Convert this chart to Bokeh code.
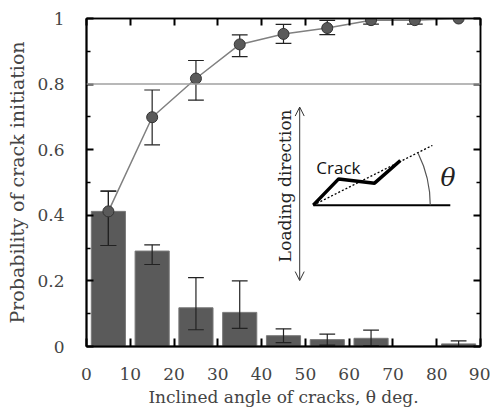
import numpy as np
from bokeh.plotting import figure
from bokeh.models import (Range1d, LinearAxis, FixedTicker, CustomJSTickFormatter,
                          Span, Label, Arrow, OpenHead)
from bokeh.embed import file_html
from bokeh.resources import INLINE

# ---- data ----
angles = [5, 15, 25, 35, 45, 55, 65, 75, 85]
bar_prob = [0.412, 0.291, 0.118, 0.104, 0.033, 0.021, 0.025, 0.0, 0.008]
bar_low = [0.308, 0.250, 0.051, 0.055, 0.012, 0.004, 0.002, np.nan, 0.0]
bar_high = [0.474, 0.310, 0.210, 0.200, 0.054, 0.038, 0.050, np.nan, 0.017]
cum_prob = [0.412, 0.699, 0.817, 0.921, 0.953, 0.971, 0.995, 0.995, 1.0]
cum_low = [0.308, 0.615, 0.751, 0.884, 0.924, 0.951, 0.983, 0.983, 1.0]
cum_high = [0.474, 0.782, 0.872, 0.950, 0.982, 0.994, 1.0, 1.0, 1.0]
x_ticks = [0, 10, 20, 30, 40, 50, 60, 70, 80, 90]
y_ticks = [0, 0.2, 0.4, 0.6, 0.8, 1.0]
y_minor = [0.1, 0.3, 0.5, 0.7, 0.9]

SERIF = "DejaVu Serif"
CAP = 1.8  # half width of error-bar caps (x data units)

p = figure(width=490, height=410, output_backend="svg", toolbar_location=None,
           x_range=Range1d(0, 90), y_range=Range1d(0, 1),
           min_border_left=86, min_border_top=18, min_border_right=10, min_border_bottom=64)
p.grid.visible = False
p.outline_line_color = "black"
p.outline_line_width = 1.5
p.background_fill_color = "white"

# bars
p.vbar(x=angles, top=bar_prob, width=7.8, fill_color="#5a5a5a", line_color="#7a7a7a", line_width=1)

def errbars(xs, lo, hi, color="#222222"):
    xs = np.array(xs, dtype=float); lo = np.array(lo, dtype=float); hi = np.array(hi, dtype=float)
    p.segment(x0=xs, y0=lo, x1=xs, y1=hi, line_color=color, line_width=1.2)
    p.segment(x0=xs - CAP, y0=lo, x1=xs + CAP, y1=lo, line_color=color, line_width=1.2)
    p.segment(x0=xs - CAP, y0=hi, x1=xs + CAP, y1=hi, line_color=color, line_width=1.2)

errbars(angles, bar_low, bar_high)

# reference line at 0.8
p.add_layout(Span(location=0.8, dimension="width", line_color="#a0a0a0", line_width=1.5))

# cumulative line
p.line(angles, cum_prob, line_color="#808080", line_width=1.5)
errbars(angles, cum_low, cum_high)
p.scatter(angles, cum_prob, size=11, fill_color="#5a5a5a", line_color="#333333", line_width=1)

# ---- axes ----
yt = FixedTicker(ticks=y_ticks, minor_ticks=y_minor)
xt = FixedTicker(ticks=x_ticks)
fmt = CustomJSTickFormatter(code="return tick.toString();")
blank = CustomJSTickFormatter(code="return '';")

for ax in p.yaxis:
    ax.ticker = yt
    ax.formatter = fmt
    ax.axis_label = "Probability of crack initiation"
    ax.axis_label_text_font = SERIF
    ax.axis_label_text_font_size = "19px"
    ax.axis_label_text_font_style = "normal"
    ax.axis_label_standoff = 6
    ax.major_label_text_font = SERIF
    ax.major_label_text_font_size = "17px"
    ax.major_label_standoff = 22
    ax.major_tick_in = 7
    ax.major_tick_out = 0
    ax.minor_tick_in = 4
    ax.minor_tick_out = 0
    ax.axis_line_width = 2
    ax.major_tick_line_width = 2
    ax.minor_tick_line_width = 1.5

for ax in p.xaxis:
    ax.ticker = xt
    ax.formatter = fmt
    ax.axis_label = "Inclined angle of cracks, \u03b8 deg."
    ax.axis_label_text_font = SERIF
    ax.axis_label_text_font_size = "17px"
    ax.axis_label_text_font_style = "normal"
    ax.axis_label_standoff = 4
    ax.major_label_text_font = SERIF
    ax.major_label_text_font_size = "17px"
    ax.major_label_standoff = 21
    ax.major_tick_in = 8
    ax.major_tick_out = 0
    ax.minor_tick_line_color = None
    ax.axis_line_width = 2
    ax.major_tick_line_width = 2

top = LinearAxis(ticker=xt, formatter=blank, major_tick_in=7, major_tick_out=0,
                 minor_tick_line_color=None, major_label_standoff=0,
                 axis_line_width=1.5, major_tick_line_width=2)
right = LinearAxis(ticker=FixedTicker(ticks=y_ticks, minor_ticks=y_minor), formatter=blank,
                   major_tick_in=7, major_tick_out=0, minor_tick_in=4, minor_tick_out=0,
                   major_label_standoff=0,
                   axis_line_width=1.5, major_tick_line_width=2, minor_tick_line_width=1.5)
p.add_layout(top, "above")
p.add_layout(right, "right")

# ---- inset sketch ----
p.add_layout(Arrow(x_start=48.7, y_start=0.201, x_end=48.7, y_end=0.730,
                   start=OpenHead(size=9, line_width=1, line_color="#333333"),
                   end=OpenHead(size=9, line_width=1, line_color="#333333"),
                   line_color="#333333", line_width=1))
p.add_layout(Label(x=45.3, y=0.49, text="Loading direction", angle=np.pi / 2,
                   text_align="center", text_baseline="middle",
                   text_font=SERIF, text_font_size="17px", text_color="#222222"))
p.line([51.8, 83.1], [0.431, 0.431], line_color="black", line_width=2)
p.line([51.8, 79.0], [0.431, 0.613], line_color="black", line_width=1.3, line_dash="2 2")
p.line([51.8, 57.6, 65.8, 71.7], [0.431, 0.511, 0.498, 0.567], line_color="black", line_width=3.5)
p.arc(x=[51.8], y=[0.431], radius=117, radius_units="screen", start_angle=0, end_angle=0.46,
      line_color="#555555", line_width=1.2)
p.add_layout(Label(x=52.5, y=0.545, text="Crack", text_font="Open Sans", text_font_size="17px",
                   text_baseline="alphabetic", text_color="#111111"))
p.add_layout(Label(x=82.6, y=0.515, text="\u03b8", text_font=SERIF, text_font_style="italic",
                   text_font_size="25px", text_align="center", text_baseline="middle",
                   text_color="#222222"))

open("out.html", "w").write(file_html(p, INLINE))
